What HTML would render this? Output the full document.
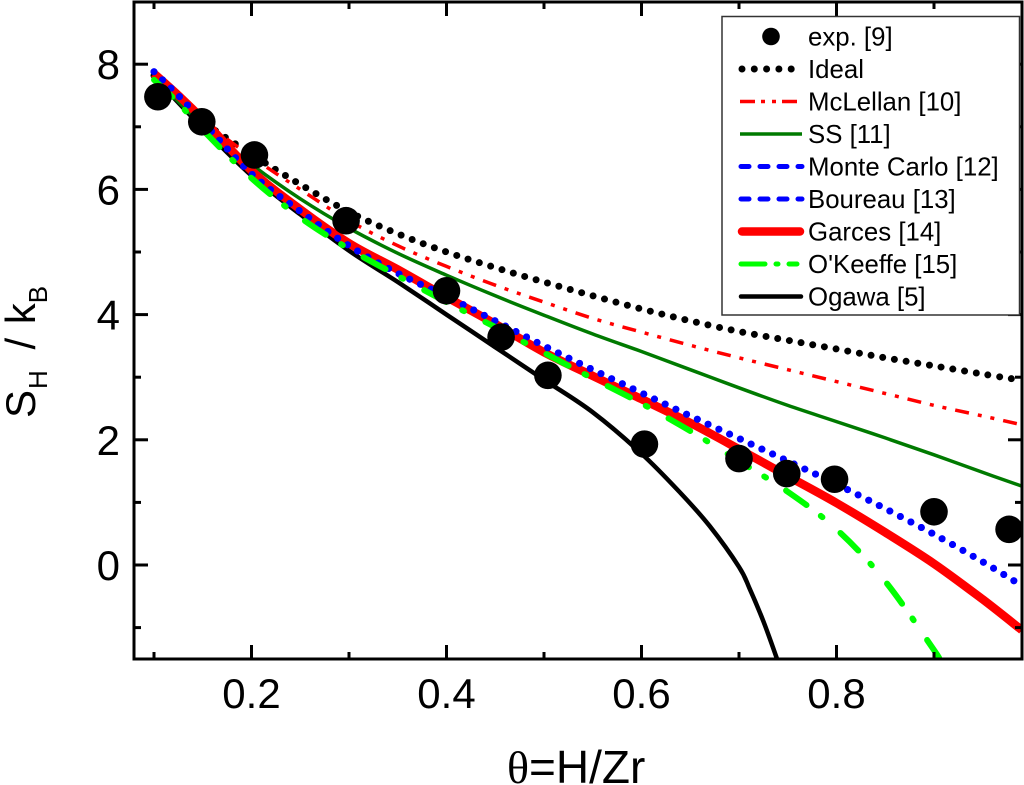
<!DOCTYPE html>
<html lang="en">
<head>
<meta charset="utf-8">
<title>Hydrogen entropy vs. theta</title>
<style>
  html,body{margin:0;padding:0;background:#fff;}
  svg{display:block;font-family:"Liberation Sans",sans-serif;}
</style>
</head>
<body>
<svg id="chart" width="1024" height="785" viewBox="0 0 1024 785" xmlns="http://www.w3.org/2000/svg">
  <defs><clipPath id="plot-clip"><rect x="134" y="2" width="888" height="657"/></clipPath></defs>
  <g id="curves" clip-path="url(#plot-clip)"></g>
  <g id="ticks"></g>
  <rect x="134" y="2" width="888" height="657" fill="none" stroke="#000" stroke-width="3"/>
  <g id="tick-labels" font-size="42" fill="#000"></g>
  <g id="points"></g>
  <g id="legend">
    <rect x="722" y="16.5" width="297.5" height="298.5" fill="#fff" stroke="#333" stroke-width="1.5"/>
  </g>
  <text x="507" y="783" font-size="46" fill="#000"><tspan font-family="'Liberation Serif','DejaVu Serif',serif">θ</tspan>=H/Zr</text>
  <text transform="translate(35,418) rotate(-90)" font-size="42" fill="#000">S<tspan dy="12" dx="1" font-size="26">H</tspan><tspan dy="-12" dx="9"> / </tspan><tspan dx="2">k</tspan><tspan dy="12" font-size="26">B</tspan></text>
</svg>
<script>
const gridTheta = [0.1,0.125,0.15,0.2,0.25,0.3,0.35,0.4,0.45,0.5,0.55,0.6,0.65,0.7,0.75,0.8,0.85,0.9,0.95,0.99];
const idealValues = [7.82,7.42,7.08,6.56,6.08,5.64,5.29,5.00,4.75,4.52,4.30,4.09,3.90,3.73,3.59,3.45,3.31,3.18,3.05,2.95];
const mclellanValues = [7.85,7.45,7.10,6.52,6.00,5.50,5.10,4.77,4.47,4.20,3.94,3.72,3.51,3.31,3.12,2.93,2.74,2.55,2.38,2.24];
const ssValues = [7.80,7.40,7.03,6.40,5.85,5.38,4.98,4.63,4.30,3.99,3.69,3.41,3.12,2.83,2.55,2.29,2.03,1.76,1.48,1.26];
const monteCarloValues = [7.88,7.50,7.08,6.25,5.65,5.10,4.66,4.29,3.90,3.50,3.12,2.75,2.38,2.02,1.66,1.29,0.90,0.49,0.05,-0.33];
const boureauValues = [7.88,7.50,7.08,6.25,5.65,5.10,4.66,4.29,3.90,3.50,3.12,2.75,2.38,2.02,1.66,1.29,0.90,0.49,0.05,-0.33];
const garcesValues = [7.85,7.50,7.12,6.30,5.68,5.14,4.72,4.28,3.85,3.40,3.02,2.65,2.27,1.85,1.42,0.99,0.52,0.02,-0.55,-1.04];
const okeeffeTheta = [0.1,0.125,0.15,0.2,0.25,0.3,0.35,0.4,0.45,0.5,0.55,0.6,0.65,0.7,0.75,0.8,0.85,0.9,0.905];
const okeeffeValues = [7.75,7.38,6.95,6.18,5.55,5.05,4.62,4.20,3.80,3.39,2.98,2.58,2.14,1.66,1.17,0.57,-0.26,-1.36,-1.50];
const ogawaTheta = [0.1,0.15,0.2,0.25,0.3,0.35,0.4,0.45,0.5,0.55,0.6,0.64,0.67,0.7,0.711,0.725,0.739];
const ogawaValues = [7.80,6.98,6.22,5.60,5.02,4.52,4.00,3.48,2.96,2.44,1.78,1.15,0.62,-0.03,-0.38,-0.90,-1.50];
const expTheta = [0.104,0.149,0.203,0.297,0.4,0.456,0.504,0.603,0.70,0.749,0.798,0.90,0.977];
const expValues = [7.48,7.08,6.55,5.50,4.38,3.64,3.03,1.93,1.70,1.46,1.37,0.85,0.57];
const xMajorTicks = [0.2,0.4,0.6,0.8];
const xMinorTicks = [0.1,0.3,0.5,0.7,0.9];
const yMajorTicks = [0,2,4,6,8];
const yMinorTicks = [-1,1,3,5,7];
const legendLabels = ["exp. [9]","Ideal","McLellan [10]","SS [11]","Monte Carlo [12]","Boureau [13]","Garces [14]","O'Keeffe [15]","Ogawa [5]"];

const NS = "http://www.w3.org/2000/svg";
function X(t){ return 251.5 + (t - 0.2) * 975; }
function Y(v){ return 565 - v * 62.6; }

function make(tag, attrs, parent){
  const el = document.createElementNS(NS, tag);
  for (const k in attrs) el.setAttribute(k, attrs[k]);
  parent.appendChild(el);
  return el;
}
function smoothPath(ts, vs){
  const p = ts.map((t,i)=>[X(t),Y(vs[i])]);
  let d = "M" + p[0][0].toFixed(1) + " " + p[0][1].toFixed(1);
  for (let i=0;i<p.length-1;i++){
    const a=p[Math.max(i-1,0)], b=p[i], c=p[i+1], e=p[Math.min(i+2,p.length-1)];
    const c1x=b[0]+(c[0]-a[0])/6, c1y=b[1]+(c[1]-a[1])/6;
    const c2x=c[0]-(e[0]-b[0])/6, c2y=c[1]-(e[1]-b[1])/6;
    d += "C"+c1x.toFixed(1)+" "+c1y.toFixed(1)+" "+c2x.toFixed(1)+" "+c2y.toFixed(1)+" "+c[0].toFixed(1)+" "+c[1].toFixed(1);
  }
  return d;
}

const styleIdeal = {stroke:"#000","stroke-width":7,"stroke-linecap":"round","stroke-dasharray":"0 11.85"};
const styleMcl = {stroke:"#f00","stroke-width":3.5,"stroke-linecap":"butt","stroke-dasharray":"14 9 4 9 4 9"};
const styleSS = {stroke:"#007a00","stroke-width":3.5};
const styleBlue = {stroke:"#00f","stroke-width":7,"stroke-linecap":"round","stroke-dasharray":"0 11.85"};
const styleGarces = {stroke:"#f00","stroke-width":8.5};
const styleGreen = {stroke:"#0f0","stroke-width":6,"stroke-linecap":"round","stroke-dasharray":"25 18 2 24"};
const styleOgawa = {stroke:"#000","stroke-width":4.5};

const curves = document.getElementById("curves");
function drawCurve(name, ts, vs, style){
  const el = make("path", Object.assign({d:smoothPath(ts,vs),fill:"none","stroke-linejoin":"round"}, style), curves);
  
  
}
drawCurve("ogawa-curve", ogawaTheta, ogawaValues, styleOgawa);
drawCurve("ideal-curve", gridTheta, idealValues, styleIdeal);
drawCurve("mclellan-curve", gridTheta, mclellanValues, styleMcl);
drawCurve("ss-curve", gridTheta, ssValues, styleSS);
drawCurve("garces-curve", gridTheta, garcesValues, styleGarces);
drawCurve("monte-carlo-curve", gridTheta, monteCarloValues, styleBlue);
drawCurve("boureau-curve", gridTheta, boureauValues, styleBlue);
drawCurve("okeeffe-curve", okeeffeTheta, okeeffeValues, styleGreen);

const tickG = document.getElementById("ticks");
const labelG = document.getElementById("tick-labels");
function tick(x1,y1,x2,y2,name){
  const el = make("line",{x1:x1,y1:y1,x2:x2,y2:y2,stroke:"#000","stroke-width":3},tickG);
  
  
}
xMajorTicks.forEach(t=>{
  tick(X(t),659,X(t),645,"x-major-tick");
  tick(X(t),2,X(t),16,"x-major-tick-top");
  const lab = make("text",{x:X(t),y:708,"text-anchor":"middle"},labelG);
  lab.textContent = t.toFixed(1);
  
  
});
xMinorTicks.forEach(t=>{
  tick(X(t),659,X(t),652,"x-minor-tick");
  tick(X(t),2,X(t),9,"x-minor-tick-top");
});
yMajorTicks.forEach(v=>{
  tick(134,Y(v),148,Y(v),"y-major-tick");
  tick(1022,Y(v),1008,Y(v),"y-major-tick-right");
  const lab = make("text",{x:120,y:Y(v)+15,"text-anchor":"end"},labelG);
  lab.textContent = String(v);
  
  
});
yMinorTicks.forEach(v=>{
  tick(134,Y(v),141,Y(v),"y-minor-tick");
  tick(1022,Y(v),1015,Y(v),"y-minor-tick-right");
});

const pointG = document.getElementById("points");
expTheta.forEach((t,i)=>{
  const c = make("circle",{cx:X(t),cy:Y(expValues[i]),r:13.8,fill:"#000"},pointG);
  
  
});

const legendG = document.getElementById("legend");
const legendStyles = [
  null,
  {stroke:"#000","stroke-width":7,"stroke-linecap":"round","stroke-dasharray":"0 12.3",x1:742,x2:792},
  {stroke:"#f00","stroke-width":3.5,"stroke-dasharray":"15 6 4 7 4 6 15",x1:740,x2:799},
  {stroke:"#007a00","stroke-width":3.5,x1:740,x2:802},
  {stroke:"#00f","stroke-width":5,"stroke-linecap":"round","stroke-dasharray":"8 11",x1:741,x2:802},
  {stroke:"#00f","stroke-width":5,"stroke-linecap":"round","stroke-dasharray":"8 11",x1:741,x2:802},
  {stroke:"#f00","stroke-width":8.5,"stroke-linecap":"round",x1:742,x2:800},
  {stroke:"#0f0","stroke-width":5,"stroke-linecap":"round","stroke-dasharray":"24 11 2 11 8",x1:741,x2:802},
  {stroke:"#000","stroke-width":4.5,"stroke-linecap":"round",x1:741,x2:801}
];
legendLabels.forEach((label,i)=>{
  const yc = 36.5 + i * 32.5;
  if (i === 0){
    const m = make("circle",{cx:771,cy:yc,r:8.8,fill:"#000"},legendG);
    
    
  } else {
    const s = legendStyles[i];
    const attrs = Object.assign({}, s, {y1:yc,y2:yc});
    const ln = make("line",attrs,legendG);
    
    
  }
  const tx = make("text",{x:808,y:yc+8.8,"font-size":25.8,fill:"#000"},legendG);
  tx.textContent = label;
  
  
});
</script>
</body>
</html>
